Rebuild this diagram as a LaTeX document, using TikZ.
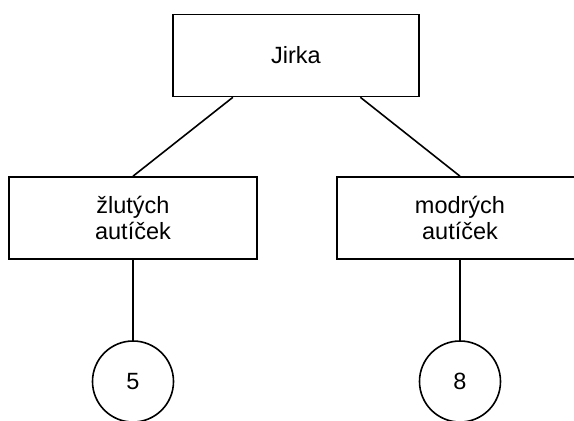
\documentclass[tikz,border=0pt]{standalone}
\usepackage{fontspec}
\setmainfont{Liberation Sans}
\usetikzlibrary{calc}
\begin{document}
\begin{tikzpicture}[x=1pt,y=-1pt,
  box/.style={draw=black, line width=1.6pt, minimum width=246pt, minimum height=82pt,
    align=center, inner sep=0pt, font=\fontsize{23.5}{26}\selectfont},
  leaf/.style={draw=black, line width=1.6pt, circle, minimum size=81pt, inner sep=0pt,
    font=\fontsize{23.5}{26}\selectfont},
  link/.style={draw=black, line width=1.6pt}]
  % fixed frame; the right box and the circles run past it
  \useasboundingbox (0,0) rectangle (574,421);
  \clip (0,0) rectangle (574,421);
  \node[box] (root) at (296,55.5) {Jirka};
  \node[box, minimum width=248pt] (yellow) at (133,218) {žlutých\\autíček};
  \node[box] (blue) at (460,218) {modrých\\autíček};
  \node[leaf] (five) at (133,381.5) {5};
  \node[leaf] (eight) at (460,381.5) {8};
  \draw[link] ($(root.south west)!0.245!(root.south east)$) -- (yellow.north);
  \draw[link] ($(root.south west)!0.76!(root.south east)$) -- (blue.north);
  \draw[link] (yellow.south) -- (five.north);
  \draw[link] (blue.south) -- (eight.north);
\end{tikzpicture}
\end{document}
